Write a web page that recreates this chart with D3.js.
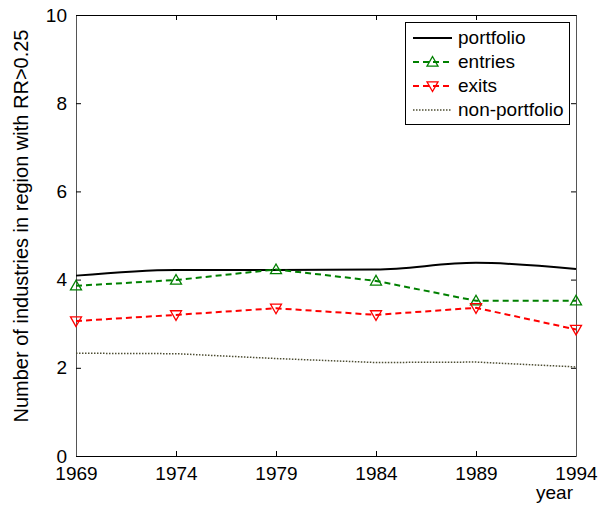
<!DOCTYPE html>
<html><head><meta charset="utf-8">
<script src="https://cdn.jsdelivr.net/npm/d3@7"></script>
<style>body{margin:0;background:#fff}svg{display:block}text{font-family:"Liberation Sans",Arial,sans-serif}</style>
</head><body>
<script>
const years = [1969, 1974, 1979, 1984, 1989, 1994];
const portfolio = [4.09, 4.22, 4.22, 4.23, 4.38, 4.24];
const entries = [3.86, 3.99, 4.23, 3.97, 3.52, 3.52];
const exits = [3.06, 3.20, 3.35, 3.20, 3.36, 2.87];
const nonPortfolio = [2.33, 2.32, 2.21, 2.12, 2.13, 2.02];
const yTicks = [0, 2, 4, 6, 8, 10];
const seriesNames = ["portfolio", "entries", "exits", "non-portfolio"];

const W = 599, H = 511;
const m = {l: 76, r: 23, t: 15, b: 55};
const svg = d3.select("body").append("svg").attr("width", W).attr("height", H);
const x = d3.scaleLinear().domain([1969, 1994]).range([m.l, W - m.r]);
const y = d3.scaleLinear().domain([0, 10]).range([H - m.b, m.t]);

const fs = 19;
// axes
const gx = svg.append("g").attr("transform", `translate(0,${y(0)})`)
  .call(d3.axisBottom(x).tickValues(years).tickFormat(d3.format("d")).tickSizeInner(-5).tickSizeOuter(0).tickPadding(11));
const gxt = svg.append("g").attr("transform", `translate(0,${y(10)})`)
  .call(d3.axisTop(x).tickValues(years).tickFormat("").tickSizeInner(-5).tickSizeOuter(0));
const gy = svg.append("g").attr("transform", `translate(${x(1969)},0)`)
  .call(d3.axisLeft(y).tickValues(yTicks).tickFormat(d3.format("d")).tickSizeInner(-5).tickSizeOuter(0).tickPadding(9));
const gyr = svg.append("g").attr("transform", `translate(${x(1994)},0)`)
  .call(d3.axisRight(y).tickValues(yTicks).tickFormat("").tickSizeInner(-5).tickSizeOuter(0));
[gx, gxt, gy, gyr].forEach(g => {
  g.selectAll("text").attr("font-size", fs).attr("fill", "#000").attr("font-family", '"Liberation Sans",Arial,sans-serif');
  g.selectAll("line").attr("stroke", "#000");
  g.select(".domain").attr("stroke", "#000");
});
gy.select(".domain").attr("stroke", "#555");
gyr.select(".domain").attr("stroke", "#555");

svg.append("text").attr("transform", `translate(28,226) rotate(-90)`)
  .attr("text-anchor", "middle").attr("font-size", 20).text("Number of industries in region with RR>0.25");
svg.append("text").attr("x", 573).attr("y", 499).attr("text-anchor", "end").attr("font-size", fs).text("year");

const data = [portfolio, entries, exits, nonPortfolio];
const styles = [
  {color: "#000", dash: null, width: 2, marker: null, curve: d3.curveMonotoneX},
  {color: "#008000", dash: "6,4", width: 2, marker: "up", curve: d3.curveLinear},
  {color: "#ff0000", dash: "6,4", width: 2, marker: "down", curve: d3.curveLinear},
  {color: "#4d4d33", dash: "1.5,1.5", width: 1.5, marker: null, curve: d3.curveLinear}
];
const plot = svg.append("g");
function tri(g, cx, cy, dir, color) {
  const s = 5.5;
  const pts = dir === "up"
    ? [[cx, cy - s], [cx - s, cy + s*0.75], [cx + s, cy + s*0.75]]
    : [[cx, cy + s], [cx - s, cy - s*0.75], [cx + s, cy - s*0.75]];
  g.append("polygon").attr("points", pts.map(p => p.join(",")).join(" "))
    .attr("fill", "none").attr("stroke", color).attr("stroke-width", 1.3);
}
data.forEach((vals, i) => {
  const st = styles[i];
  const line = d3.line().x((d, j) => x(years[j])).y(d => y(d)).curve(st.curve);
  plot.append("path").attr("d", line(vals)).attr("fill", "none").attr("stroke", st.color)
    .attr("stroke-width", st.width).attr("stroke-dasharray", st.dash);
  if (st.marker) vals.forEach((v, j) => tri(plot, x(years[j]), y(v), st.marker, st.color));
});

// legend
const lg = svg.append("g");
lg.append("rect").attr("x", 405.5).attr("y", 22.5).attr("width", 164).attr("height", 102)
  .attr("fill", "#fff").attr("stroke", "#000").attr("stroke-width", 1);
seriesNames.forEach((n, i) => {
  const st = styles[i];
  const cy = 38 + i * 24;
  lg.append("line").attr("x1", 413).attr("x2", 452).attr("y1", cy).attr("y2", cy)
    .attr("stroke", st.color).attr("stroke-width", st.width).attr("stroke-dasharray", st.dash);
  if (st.marker) tri(lg, 432.5, cy, st.marker, st.color);
  lg.append("text").attr("x", 458).attr("y", cy + 6).attr("font-size", fs).text(n);
});
</script>
</body></html>
